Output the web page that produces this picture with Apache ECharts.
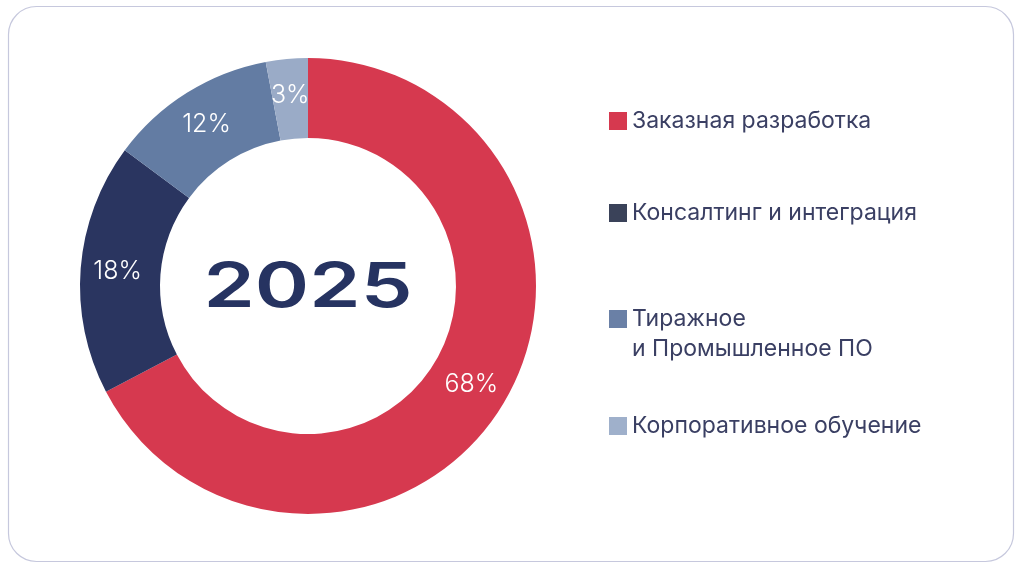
<!DOCTYPE html>
<html>
<head>
<meta charset="utf-8">
<script src="https://cdn.jsdelivr.net/npm/echarts@6/dist/echarts.min.js"></script>
<style>
html,body{margin:0;padding:0;background:#fff;}
#chart{width:1024px;height:570px;}
</style>
</head>
<body>
<div id="chart"></div>
<script>
const categories = ['Заказная разработка', 'Консалтинг и интеграция', 'Тиражное\nи Промышленное ПО', 'Корпоративное обучение'];
const values = [68, 18, 12, 3];
const sliceColors = ['#d6394f', '#2a3560', '#637ca3', '#9aabc7'];
const legendIconColors = ['#d6394f', '#3a4259', '#6a80a6', '#9fb0cb'];
const centerTitle = '2025';

const chart = echarts.init(document.getElementById('chart'), null, {renderer: 'canvas'});

const legendTops = [106, 198, 274, 411];
const legends = categories.map((name, i) => ({
  orient: 'vertical',
  left: 609,
  top: legendTops[i],
  padding: 0,
  itemWidth: 18,
  itemHeight: 18,
  icon: 'rect',
  selectedMode: false,
  data: [{name: name, itemStyle: {color: legendIconColors[i]}}],
  formatter: n => (n.indexOf('\n') >= 0 ? '\n' + n : n),
  textStyle: {
    fontFamily: 'Inter',
    fontSize: 23,
    color: '#3a3f63',
    lineHeight: 30
  }
}));

chart.setOption({
  backgroundColor: '#ffffff',
  animation: false,
  graphic: [
    {
      type: 'rect',
      shape: {x: 8.5, y: 6.5, width: 1005, height: 555, r: 28},
      style: {fill: '#ffffff', stroke: '#c6c8dd', lineWidth: 1.2},
      z: -10
    },
    {
      type: 'text',
      x: 308, y: 288,
      scaleX: 1.33,
      style: {
        text: centerTitle,
        fontFamily: 'Inter',
        fontWeight: 600,
        fontSize: 62,
        fill: '#263361',
        align: 'center',
        verticalAlign: 'middle'
      },
      z: 10
    }
  ],
  legend: legends,
  series: [{
    type: 'pie',
    center: [308, 286],
    radius: [148, 228],
    startAngle: 90,
    clockwise: true,
    avoidLabelOverlap: false,
    data: categories.map((name, i) => ({name: name, value: values[i], itemStyle: {color: sliceColors[i]}})),
    label: {
      show: true,
      position: 'inside',
      formatter: p => p.value + '%',
      color: '#ffffff',
      fontFamily: 'Inter',
      fontWeight: 300,
      fontSize: 25
    },
    labelLine: {show: false},
    emphasis: {disabled: true}
  }]
});
</script>
</body>
</html>
